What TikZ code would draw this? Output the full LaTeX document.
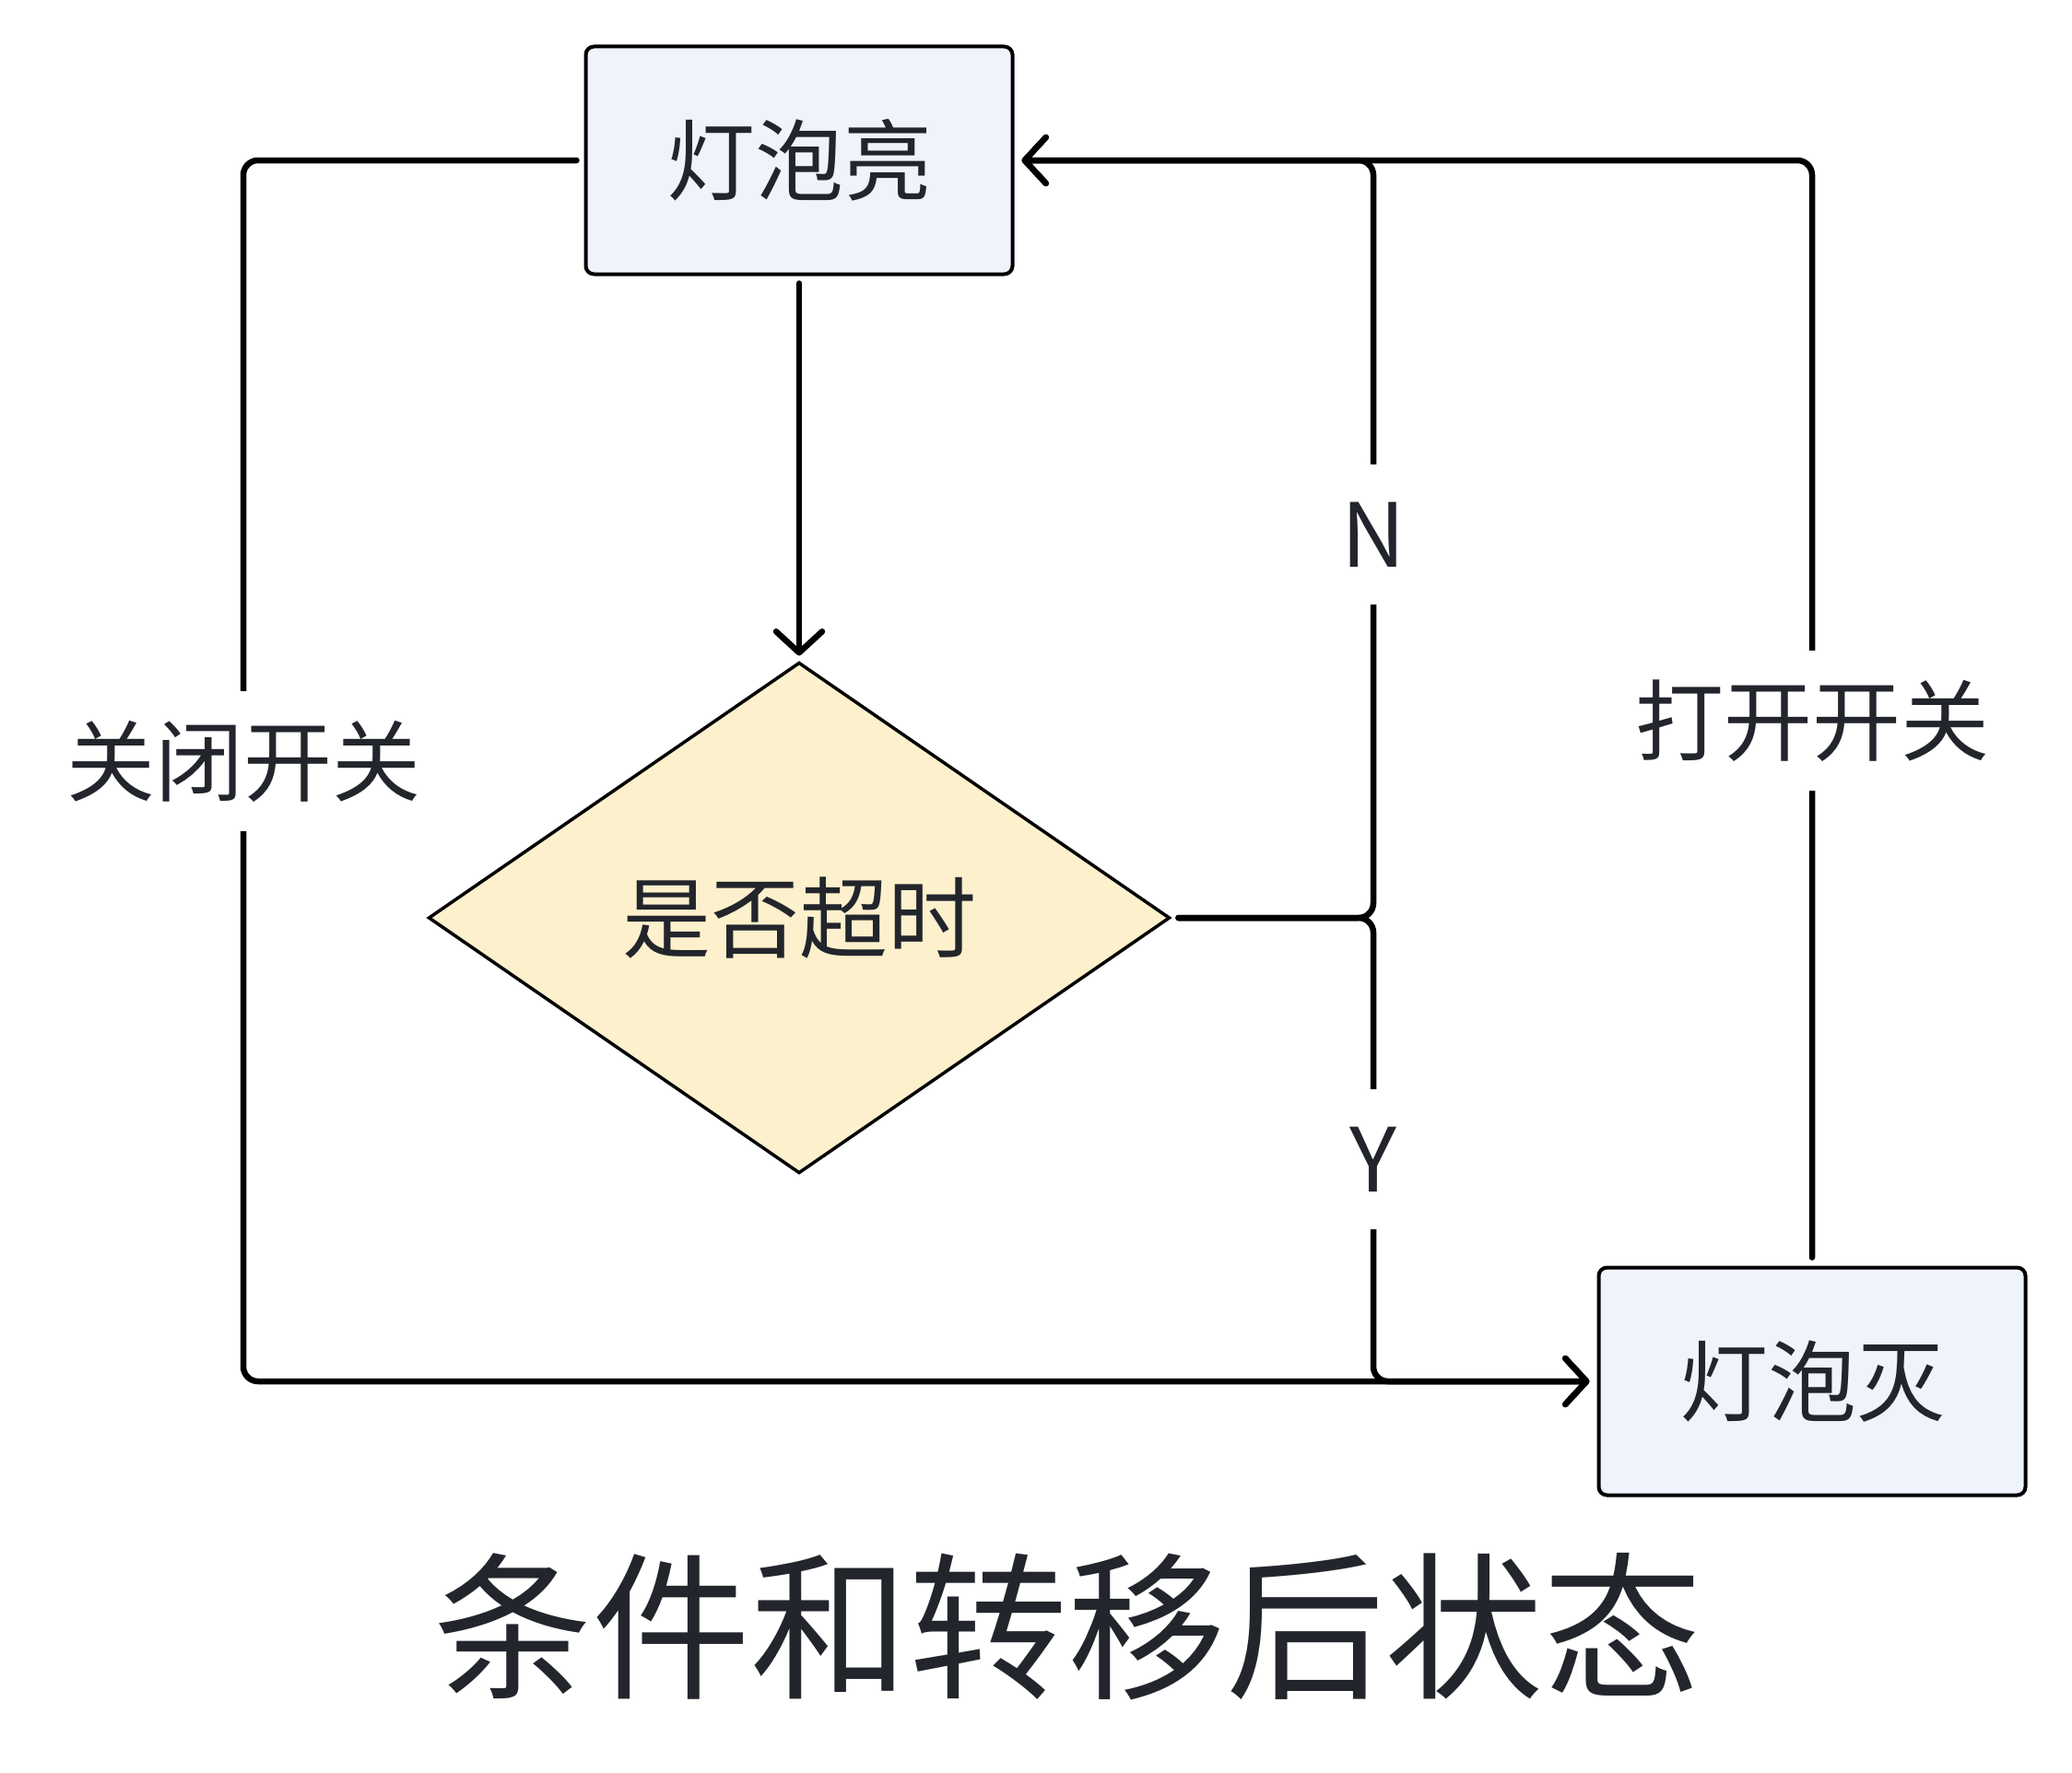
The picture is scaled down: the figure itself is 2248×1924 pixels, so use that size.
\documentclass[tikz,border=0pt]{standalone}
\usepackage{fontspec}
\setmainfont{Noto Sans CJK SC}
\usetikzlibrary{arrows.meta,shapes.geometric}
\definecolor{boxfill}{HTML}{EEF3FC}
\definecolor{decfill}{HTML}{FDF0CD}
\definecolor{txt}{HTML}{22252B}
\begin{document}
\begin{tikzpicture}[x=1pt,y=-1pt,
  statebox/.style={draw=black,line width=4pt,fill=boxfill,rounded corners=9pt,minimum width=463pt,minimum height=247pt,inner sep=0pt,outer sep=0pt,text=txt,font=\fontsize{96}{100}\selectfont},
  decbox/.style={draw=black,line width=3.5pt,fill=decfill,shape=diamond,minimum width=803pt,minimum height=553pt,inner sep=0pt,outer sep=0pt,text=txt,font=\fontsize{96}{100}\selectfont},
  conn/.style={draw=black,line width=6.5pt,rounded corners=16pt,line cap=round},
  arr/.style={-{Straight Barb[length=23pt,width=50pt,round]}},
  lbl/.style={fill=white,inner xsep=8pt,inner ysep=0pt,minimum height=152pt,text=txt,font=\fontsize{96}{100}\selectfont}]
\useasboundingbox (0,0) rectangle (2248,1924);
\fill[white] (0,0) rectangle (2248,1924);

\node[statebox] (on) at (867,174) {灯泡亮};
\node[decbox] (dec) at (867,996) {是否超时};
\node[statebox] (off) at (1966,1499) {灯泡灭};

\coordinate (lt) at (264,174);
\coordinate (lb) at (264,1499);
\coordinate (jn) at (1490,996);
\coordinate (jt) at (1490,174);
\coordinate (jb) at (1490,1499);
\coordinate (rt) at (1966,174);

% on -> off (关闭开关)
\draw[conn,arr,shorten <=10pt,shorten >=10pt] (on.west) -- (lt) -- (lb) -- (off.west);
% on -> dec
\draw[conn,arr,shorten <=10pt,shorten >=8pt] (on.south) -- (dec.north);
% dec -> on (N)
\draw[conn,arr,shorten <=10pt,shorten >=10pt] (dec.east) -- (jn) -- (jt) -- (on.east);
% dec -> off (Y)
\draw[conn,arr,shorten <=10pt,shorten >=10pt] (dec.east) -- (jn) -- (jb) -- (off.west);
% off -> on (打开开关)
\draw[conn,arr,shorten <=11pt,shorten >=10pt] (off.north) -- (rt) -- (on.east);

\node[lbl] (l1) at (264,826) {关闭开关};
\node[lbl] (l2) at (1490,580) {\raisebox{-6pt}{N}};
\node[lbl] (l3) at (1490,1258) {\raisebox{-6pt}{Y}};
\node[lbl] (l4) at (1966,782) {打开开关};

\node[text=txt,font=\fontsize{172}{180}\selectfont] (title) at (1158,1765) {条件和转移后状态};
\end{tikzpicture}
\end{document}
